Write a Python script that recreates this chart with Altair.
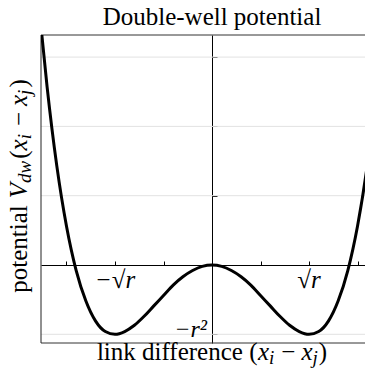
import altair as alt
import pandas as pd

# ---- data ----
x_vals = [-1.76, -1.7, -1.6, -1.5, -1.4, -1.3, -1.2, -1.1, -1.0, -0.9, -0.8, -0.7, -0.6, -0.5, -0.4, -0.3, -0.2, -0.1, 0.0,
          0.1, 0.2, 0.3, 0.4, 0.5, 0.6, 0.7, 0.8, 0.9, 1.0, 1.1, 1.2, 1.3, 1.4, 1.5, 1.6, 1.7, 1.76]
v_vals = [3.40, 2.57, 1.43, 0.56, -0.08, -0.52, -0.81, -0.96, -1.00, -0.96, -0.87, -0.74, -0.59, -0.44, -0.29, -0.17, -0.08, -0.02, 0.00,
          -0.02, -0.08, -0.17, -0.29, -0.44, -0.59, -0.74, -0.87, -0.96, -1.00, -0.96, -0.81, -0.52, -0.08, 0.56, 1.43, 2.57, 3.40]

grid_y = [-1, 1, 2, 3]
x_ticks = [-1.5, -1.0, -0.5, 0.5, 1.0, 1.5]
y_ticks = [-1, 0, 1, 2, 3]

ann_text = ["\u2212\u221ar", "\u221ar"]
ann_x = [-1.0, 1.0]
ann_y = [-0.33, -0.33]
min_text = ["\u2212r\u00b2"]
min_x = [0.0]
min_y = [-1.0]

title_text = "Double-well potential"
# axis titles, as (text, italic, subscript, gap before, gap after) pieces
xtitle_pieces = [("link difference (", False, False, 0, 0), ("x", True, False, 0, 0), ("i", True, True, 0, 1),
                 ("\u2212", False, False, 6, 6), ("x", True, False, 0, 0), ("j", True, True, 0, 1),
                 (")", False, False, 0, 0)]
ytitle_pieces = [("potential", False, False, 0, 7), ("V", True, False, 0, 0), ("dw", True, True, 0, 2),
                 ("(", False, False, 0, 0), ("x", True, False, 0, 0), ("i", True, True, 0, 2),
                 ("\u2212", False, False, 6, 6), ("x", True, False, 0, 0), ("j", True, True, 0, 2),
                 (")", False, False, 0, 0)]

# ---- layout ----
W, H = 324, 308
X0_PX = 171      # pixel of x = 0 inside the plot
Y0_PX = 230      # pixel of v = 0 inside the plot
PX_X, PX_Y = 97.0, 69.3
X_DOMAIN = [-X0_PX / PX_X, (W - X0_PX) / PX_X]
Y_DOMAIN = [-(H - Y0_PX) / PX_Y, Y0_PX / PX_Y]
FONT = "Liberation Serif"
F, S, SUB = 25, 19, 4

REG = {' ': 0.25, '(': 0.333, ')': 0.333, 'a': 0.444, 'c': 0.444, 'd': 0.5, 'e': 0.444, 'f': 0.333,
       'i': 0.278, 'k': 0.5, 'l': 0.278, 'n': 0.5, 'o': 0.5, 'p': 0.5, 'r': 0.333, 't': 0.278, '\u2212': 0.564}
ITA = {'V': 0.611, 'd': 0.5, 'w': 0.667, 'x': 0.444, 'i': 0.278, 'j': 0.278}


def piece_width(s, italic, sub, pre, post):
    size = S if sub else F
    table = ITA if italic else REG
    return pre + sum(table[c] for c in s) * size + post


rows = []
total = sum(piece_width(*p) for p in xtitle_pieces)
cur = X0_PX - total / 2
for s, it, sub, pre, post in xtitle_pieces:
    rows.append(dict(t=s, px=cur + pre, py=325 + (SUB if sub else 0), fs=S if sub else F, a=0, it=it))
    cur += piece_width(s, it, sub, pre, post)

total = sum(piece_width(*p) for p in ytitle_pieces)
cur = 151 + total / 2
for s, it, sub, pre, post in ytitle_pieces:
    rows.append(dict(t=s, px=-14 + (SUB if sub else 0), py=cur - pre, fs=S if sub else F, a=270, it=it))
    cur -= piece_width(s, it, sub, pre, post)

titles = pd.DataFrame(rows)
head = pd.DataFrame({"t": [title_text], "px": [X0_PX], "py": [-10]})

curve = pd.DataFrame({"x": x_vals, "v": v_vals})
grid = pd.DataFrame({"g": grid_y})
frame_h = pd.DataFrame({"g": [Y_DOMAIN[0], Y_DOMAIN[1]]})
frame_v = pd.DataFrame({"f": [X_DOMAIN[0]]})
ann = pd.DataFrame({"t": ann_text, "x": ann_x, "v": ann_y})
mins = pd.DataFrame({"t": min_text, "x": min_x, "v": min_y})

xs = alt.Scale(domain=X_DOMAIN, nice=False, zero=False)
ys = alt.Scale(domain=Y_DOMAIN, nice=False, zero=False)
x_axis = alt.Axis(orient="top", offset=-Y0_PX, values=x_ticks, labels=False, title=None, grid=False,
                  tickSize=4, tickColor="black", domainColor="black", domainWidth=1, tickWidth=1)
y_axis = alt.Axis(orient="right", offset=-(W - X0_PX), values=y_ticks, labels=False, title=None, grid=False,
                  tickSize=5, tickColor="black", domainColor="black", domainWidth=1, tickWidth=1)

grid_layer = alt.Chart(grid).mark_rule(color="#e2e2e2", strokeWidth=1).encode(
    y=alt.Y("g:Q", scale=ys, axis=y_axis))

frame_h_layer = alt.Chart(frame_h).mark_rule(color="#333333", strokeWidth=1).encode(
    y=alt.Y("g:Q", scale=ys, axis=y_axis))
frame_v_layer = alt.Chart(frame_v).mark_rule(color="#222222", strokeWidth=1).encode(
    x=alt.X("f:Q", scale=xs, axis=x_axis))

curve_layer = alt.Chart(curve).mark_line(color="black", strokeWidth=3, interpolate="monotone", clip=True).encode(
    x=alt.X("x:Q", scale=xs, axis=x_axis),
    y=alt.Y("v:Q", scale=ys, axis=y_axis))

ann_layer = alt.Chart(ann).mark_text(font=FONT, fontSize=25, fontStyle="italic", align="center",
                                     baseline="alphabetic", color="black").encode(
    x=alt.X("x:Q", scale=xs, axis=x_axis), y=alt.Y("v:Q", scale=ys, axis=y_axis), text="t:N")

min_layer = alt.Chart(mins).mark_text(font=FONT, fontSize=24, fontStyle="italic", align="right",
                                      baseline="alphabetic", color="black", dx=-5, dy=3).encode(
    x=alt.X("x:Q", scale=xs, axis=x_axis), y=alt.Y("v:Q", scale=ys, axis=y_axis), text="t:N")

head_layer = alt.Chart(head).mark_text(font=FONT, fontSize=25, align="center", baseline="alphabetic",
                                       color="black").encode(
    x=alt.X("px:Q", scale=None, axis=None), y=alt.Y("py:Q", scale=None, axis=None), text="t:N")


def title_layer(italic):
    return alt.Chart(titles[titles["it"] == italic]).mark_text(
        font=FONT, fontStyle="italic" if italic else "normal", align="left", baseline="alphabetic",
        color="black").encode(
        x=alt.X("px:Q", scale=None, axis=None),
        y=alt.Y("py:Q", scale=None, axis=None),
        size=alt.Size("fs:Q", scale=None, legend=None),
        angle=alt.Angle("a:Q", scale=None),
        text="t:N")


chart = alt.layer(
    grid_layer, frame_h_layer, frame_v_layer, curve_layer, ann_layer, min_layer, head_layer,
    title_layer(False), title_layer(True)
).properties(
    width=W, height=H,
    autosize=alt.AutoSizeParams(type="none"),
    padding={"left": 33, "top": 27, "right": 0, "bottom": 25},
    background="white",
).configure_view(stroke=None)

chart.save("out.html", embed_options={"renderer": "svg", "actions": False})
